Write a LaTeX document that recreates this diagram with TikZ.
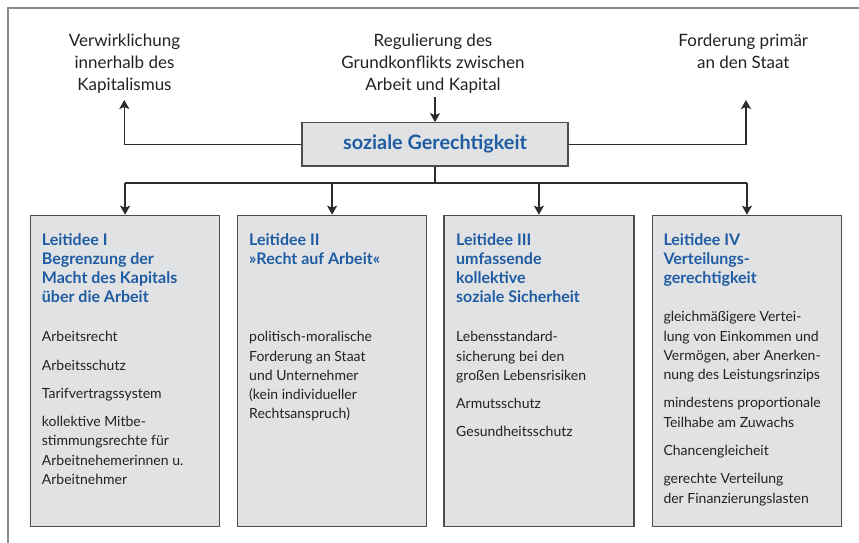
\documentclass[tikz,border=0pt]{standalone}
\usepackage{fontspec}
\setmainfont{Lato}
\usetikzlibrary{arrows.meta}
\definecolor{hblue}{HTML}{1F5CA3}
\definecolor{boxgray}{HTML}{E1E2E4}
\definecolor{edgegray}{HTML}{4D4D4D}
\definecolor{framegray}{HTML}{8A8A8A}
\definecolor{linedark}{HTML}{2B2B2B}
\definecolor{txt}{HTML}{222222}
\begin{document}
\begin{tikzpicture}[x=1pt,y=-1pt,
  conn/.style={draw=linedark, line width=1.4pt},
  arr/.style={conn, -{Stealth[length=9pt,width=10pt,inset=2pt]}},
  panel/.style={draw=edgegray, line width=1.2pt, fill=boxgray, inner sep=0pt},
  toptext/.style={align=center, inner sep=0pt, anchor=base, font=\fontsize{17}{22}\selectfont, text=txt},
  head/.style={align=left, inner sep=0pt, anchor=base west, font=\fontsize{16}{18.8}\selectfont\bfseries, text=hblue},
  body/.style={align=left, inner sep=0pt, anchor=base west, font=\fontsize{14}{19.3}\selectfont, text=txt},
]
\useasboundingbox (0,0) rectangle (859,543);
\draw[framegray, line width=1.8pt] (8,543) -- (8,8) -- (859,8);

% top texts (anchor = baseline of last line)
\node[toptext] (tl) at (124.5,90.5) {Verwirklichung\\innerhalb des\\Kapitalismus};
\node[toptext] (tm) at (433,90.5) {Regulierung des\\Grundkonflikts zwischen\\Arbeit und Kapital};
\node[toptext] (tr) at (743.3,68.5) {Forderung primär\\an den Staat};

% central box
\node[panel, minimum width=266pt, minimum height=43.3pt,
      font=\fontsize{19.8}{22}\selectfont\bfseries, text=hblue] (sg) at (435,144.4) {soziale Gerechtigkeit};

\coordinate (tlend) at (124.3,100);
\coordinate (trend) at (746,100);
\coordinate (tmstart) at (435,97);
\coordinate (bus) at (435,183);

\draw[arr] (sg.west) -| (tlend);
\draw[arr] (sg.east) -| (trend);
\draw[arr] (tmstart) -- (sg.north);

% panels
\node[panel, anchor=north west, minimum width=189pt, minimum height=311pt] (b1) at (30,214.7) {};
\node[panel, anchor=north west, minimum width=189pt, minimum height=311pt] (b2) at (237,214.7) {};
\node[panel, anchor=north west, minimum width=190pt, minimum height=311pt] (b3) at (443.3,214.7) {};
\node[panel, anchor=north west, minimum width=189.3pt, minimum height=311pt] (b4) at (651.7,214.7) {};

\draw[conn] (sg.south) -- (bus);
\draw[conn] (b1.north |- bus) -- (b4.north |- bus);
\draw[arr] (b1.north |- bus) -- (b1.north);
\draw[arr] (b2.north |- bus) -- (b2.north);
\draw[arr] (b3.north |- bus) -- (b3.north);
\draw[arr] (b4.north |- bus) -- (b4.north);

% headings (anchor = baseline of last line)
\node[head] (h1) at (41.7,302.1) {Leitidee I\\Begrenzung der\\Macht des Kapitals\\über die Arbeit};
\node[head] (h2) at (249,264.5) {Leitidee II\\»Recht auf Arbeit«};
\node[head] (h3) at (456,302.1) {Leitidee III\\umfassende\\kollektive\\soziale Sicherheit};
\node[head] (h4) at (663.3,283.3) {Leitidee IV\\Verteilungs-\\gerechtigkeit};

% bodies (anchor = baseline of last line)
\node[body] (t1) at (41.7,484.5) {Arbeitsrecht\\[9pt]Arbeitsschutz\\[9pt]Tarifvertragssystem\\[9pt]kollektive Mitbe-\\stimmungsrechte für\\Arbeitnehemerinnen u.\\Arbeitnehmer};
\node[body] (t2) at (249,418.9) {politisch-moralische\\Forderung an Staat\\und Unternehmer\\(kein individueller\\Rechtsanspruch)};
\node[body] (t3) at (456,436.9) {Lebensstandard-\\sicherung bei den\\großen Lebensrisiken\\[9pt]Armutsschutz\\[9pt]Gesundheitsschutz};
\node[body] (t4) at (663.3,503.1) {gleichmäßigere Vertei-\\lung von Einkommen und\\Vermögen, aber Anerken-\\nung des Leistungsrinzips\\[9pt]mindestens proportionale\\Teilhabe am Zuwachs\\[9pt]Chancengleicheit\\[9pt]gerechte Verteilung\\der Finanzierungslasten};
\end{tikzpicture}
\end{document}
